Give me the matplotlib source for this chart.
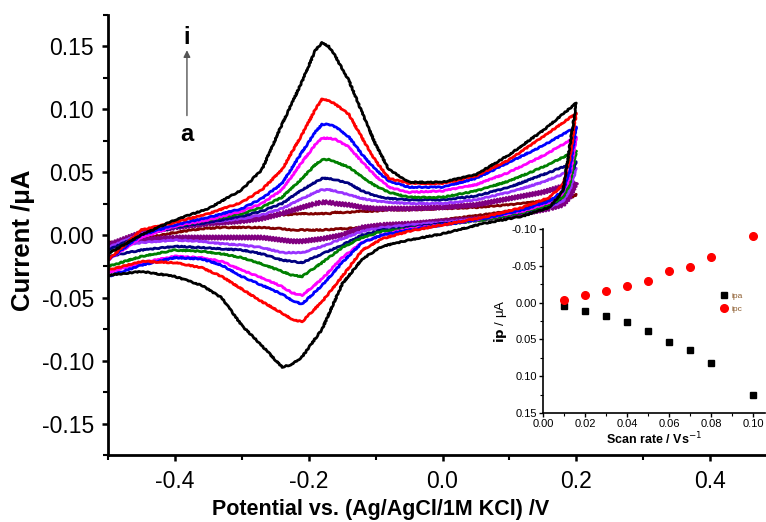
import numpy as np
import matplotlib
matplotlib.use('Agg')
import matplotlib.pyplot as plt
from matplotlib.ticker import MultipleLocator

plt.rcParams['font.family'] = ['Liberation Sans', 'DejaVu Sans']
plt.rcParams['axes.unicode_minus'] = False

## potentials (V) for the forward and the reverse sweep
e_fwd = [-0.5, -0.45, -0.4, -0.35, -0.3, -0.27, -0.24, -0.21, -0.19, -0.18, -0.17, -0.16,
         -0.14, -0.12, -0.1, -0.08, -0.05, 0.0, 0.05, 0.1, 0.15, 0.2]
e_rev = [0.19, 0.18, 0.16, 0.12, 0.06, 0.0, -0.05, -0.09, -0.12, -0.15, -0.18,
         -0.21, -0.225, -0.24, -0.27, -0.3, -0.33, -0.36, -0.4, -0.45, -0.5]

## currents (uA), curves a..i
i_fwd_a = [-0.010, 0.000, 0.006, 0.011, 0.014, 0.015, 0.016, 0.017, 0.017, 0.017, 0.017, 0.018,
           0.018, 0.019, 0.019, 0.020, 0.020, 0.021, 0.022, 0.024, 0.027, 0.032]
i_rev_a = [0.029, 0.027, 0.025, 0.021, 0.016, 0.012, 0.009, 0.007, 0.006, 0.005, 0.004,
           0.004, 0.004, 0.005, 0.006, 0.006, 0.006, 0.005, 0.002, -0.003, -0.006]
i_fwd_b = [-0.008, 0.002, 0.006, 0.009, 0.011, 0.013, 0.017, 0.022, 0.025, 0.026, 0.026, 0.025,
           0.024, 0.022, 0.021, 0.021, 0.021, 0.022, 0.024, 0.029, 0.034, 0.042]
i_rev_b = [0.030, 0.024, 0.021, 0.017, 0.013, 0.011, 0.009, 0.008, 0.006, 0.000, -0.003,
           -0.005, -0.005, -0.004, -0.002, -0.002, -0.002, -0.002, -0.002, -0.004, -0.008]
i_fwd_c = [-0.010, 0.001, 0.006, 0.010, 0.013, 0.016, 0.021, 0.029, 0.034, 0.036, 0.036, 0.035,
           0.032, 0.029, 0.027, 0.026, 0.025, 0.025, 0.028, 0.034, 0.042, 0.053]
i_rev_c = [0.035, 0.027, 0.022, 0.018, 0.013, 0.010, 0.008, 0.006, 0.003, -0.003, -0.009,
           -0.014, -0.014, -0.014, -0.010, -0.008, -0.007, -0.005, -0.004, -0.006, -0.011]
i_fwd_d = [-0.012, 0.000, 0.006, 0.010, 0.015, 0.019, 0.025, 0.036, 0.042, 0.045, 0.045, 0.044,
           0.041, 0.035, 0.031, 0.029, 0.028, 0.028, 0.031, 0.038, 0.048, 0.058]
i_rev_d = [0.045, 0.030, 0.023, 0.018, 0.012, 0.009, 0.006, 0.004, 0.000, -0.008, -0.015,
           -0.022, -0.021, -0.020, -0.015, -0.012, -0.011, -0.010, -0.009, -0.012, -0.017]
i_fwd_e = [-0.015, 0.000, 0.007, 0.012, 0.017, 0.022, 0.030, 0.045, 0.056, 0.060, 0.060, 0.058,
           0.054, 0.046, 0.039, 0.034, 0.030, 0.030, 0.035, 0.043, 0.054, 0.067]
i_rev_e = [0.040, 0.030, 0.024, 0.018, 0.012, 0.008, 0.005, 0.003, -0.002, -0.010, -0.022,
           -0.033, -0.032, -0.029, -0.023, -0.018, -0.015, -0.013, -0.012, -0.017, -0.025]
i_fwd_f = [-0.020, -0.002, 0.007, 0.012, 0.019, 0.025, 0.036, 0.058, 0.072, 0.077, 0.077, 0.076,
           0.070, 0.058, 0.047, 0.038, 0.034, 0.035, 0.040, 0.050, 0.063, 0.078]
i_rev_f = [0.045, 0.033, 0.026, 0.019, 0.013, 0.008, 0.005, 0.000, -0.006, -0.018, -0.035,
           -0.048, -0.046, -0.041, -0.034, -0.028, -0.021, -0.018, -0.017, -0.022, -0.030]
i_fwd_g = [-0.020, 0.000, 0.008, 0.014, 0.021, 0.029, 0.041, 0.066, 0.082, 0.088, 0.088, 0.086,
           0.078, 0.064, 0.052, 0.043, 0.038, 0.038, 0.045, 0.058, 0.071, 0.086]
i_rev_g = [0.050, 0.035, 0.027, 0.020, 0.013, 0.008, 0.004, 0.000, -0.006, -0.022, -0.040,
           -0.055, -0.052, -0.047, -0.040, -0.033, -0.024, -0.019, -0.018, -0.024, -0.033]
i_fwd_h = [-0.020, 0.004, 0.010, 0.017, 0.026, 0.036, 0.052, 0.080, 0.100, 0.108, 0.107, 0.104,
           0.096, 0.077, 0.059, 0.045, 0.041, 0.041, 0.047, 0.060, 0.078, 0.097]
i_rev_h = [0.060, 0.040, 0.030, 0.022, 0.014, 0.008, 0.003, -0.003, -0.012, -0.033, -0.053,
           -0.069, -0.067, -0.062, -0.053, -0.043, -0.033, -0.026, -0.022, -0.021, -0.028]
i_fwd_i = [-0.015, 0.000, 0.012, 0.021, 0.036, 0.052, 0.088, 0.122, 0.147, 0.153, 0.150, 0.142,
           0.123, 0.097, 0.072, 0.052, 0.042, 0.042, 0.048, 0.064, 0.083, 0.105]
i_rev_i = [0.070, 0.035, 0.022, 0.015, 0.009, 0.001, -0.004, -0.009, -0.019, -0.039, -0.075,
           -0.097, -0.103, -0.105, -0.088, -0.072, -0.050, -0.040, -0.033, -0.029, -0.032]

curve_colors = ['#800000', '#800080', '#9933FF', '#000080', '#008000',
                '#FF00FF', '#0000FF', '#FF0000', '#000000']

## inset: peak currents vs scan rate
scan_rate = [0.01, 0.02, 0.03, 0.04, 0.05, 0.06, 0.07, 0.08, 0.10]
ipa = [0.004, 0.011, 0.018, 0.027, 0.038, 0.054, 0.064, 0.082, 0.126]
ipc = [-0.004, -0.010, -0.016, -0.022, -0.030, -0.043, -0.049, -0.062, -0.091]

fwd = [i_fwd_a, i_fwd_b, i_fwd_c, i_fwd_d, i_fwd_e, i_fwd_f, i_fwd_g, i_fwd_h, i_fwd_i]
rev = [i_rev_a, i_rev_b, i_rev_c, i_rev_d, i_rev_e, i_rev_f, i_rev_g, i_rev_h, i_rev_i]

fig = plt.figure(figsize=(7.66, 5.22), dpi=100)
ax = fig.add_axes([108/766, 1-455/522, 669/766, 440/522])

for k in range(len(fwd)):
    line, = ax.plot(e_fwd + e_rev, fwd[k] + rev[k], color=curve_colors[k], lw=2.0)
    if k == 1:
        line.set_sketch_params(scale=2.0, length=3, randomness=1)
    else:
        line.set_sketch_params(scale=0.5, length=6, randomness=4)

ax.set_xlim(-0.5, 0.5)
ax.set_ylim(-0.175, 0.175)
ax.xaxis.set_major_locator(MultipleLocator(0.2))
ax.xaxis.set_minor_locator(MultipleLocator(0.1))
ax.yaxis.set_major_locator(MultipleLocator(0.05))
ax.yaxis.set_minor_locator(MultipleLocator(0.025))
ax.xaxis.set_major_formatter(plt.FormatStrFormatter('%.1f'))
ax.yaxis.set_major_formatter(plt.FormatStrFormatter('%.2f'))
ax.spines['top'].set_visible(False)
ax.spines['right'].set_visible(False)
for s in ['left', 'bottom']:
    ax.spines[s].set_linewidth(2.0)
ax.tick_params(which='major', direction='out', length=4.5, width=1.8, labelsize=16.5)
ax.tick_params(which='minor', direction='out', length=3.5, width=1.5)
ax.tick_params(axis='y', which='major', pad=5.5)
ax.tick_params(axis='x', which='major', pad=6)

fig.text(381/766, 1-510/522, 'Potential vs. (Ag/AgCl/1M KCl) /V', fontsize=15.5,
         fontweight='bold', ha='center', va='center')
fig.text(23/766, 1-240/522, 'Current /\u03bcA', fontsize=18.5, fontweight='bold',
         rotation=90, ha='center', va='center')

## scan direction arrow a -> i
ax.annotate('', xy=(-0.382, 0.147), xytext=(-0.382, 0.095),
            arrowprops=dict(arrowstyle='-|>', color='#555555', lw=1.0,
                            mutation_scale=10, shrinkA=0, shrinkB=0))
ax.text(-0.382, 0.157, 'i', fontsize=17, fontweight='bold', ha='center', va='center')
ax.text(-0.382, 0.080, 'a', fontsize=17, fontweight='bold', ha='center', va='center')

## inset
axin = fig.add_axes([543/766, 1-413/522, 222/766, 184/522])
axin.patch.set_alpha(0)
axin.plot(scan_rate, ipa, 's', color='black', ms=5, label='ipa')
axin.plot(scan_rate, ipc, 'o', color='red', ms=5.5, label='ipc')
axin.set_xlim(0, 0.1057)
axin.set_ylim(0.15, -0.10)
axin.xaxis.set_major_locator(MultipleLocator(0.02))
axin.xaxis.set_minor_locator(MultipleLocator(0.01))
axin.yaxis.set_major_locator(MultipleLocator(0.05))
axin.yaxis.set_minor_locator(MultipleLocator(0.025))
axin.xaxis.set_major_formatter(plt.FormatStrFormatter('%.2f'))
axin.yaxis.set_major_formatter(plt.FormatStrFormatter('%.2f'))
axin.spines['top'].set_visible(False)
axin.spines['right'].set_visible(False)
for s in ['left', 'bottom']:
    axin.spines[s].set_linewidth(1.2)
axin.tick_params(which='major', direction='out', length=3, width=1.0, labelsize=8, pad=1.5)
axin.tick_params(which='minor', direction='out', length=2, width=0.8)
axin.set_xlabel('Scan rate / Vs$^{-1}$', fontsize=9, fontweight='bold', labelpad=1)
axin.set_ylabel('$\\mathbf{ip}$ / \u03bcA', fontsize=9.5, labelpad=2)
leg = axin.legend(loc='upper left', bbox_to_anchor=(0.78, 0.68), frameon=False,
                  fontsize=6, handlelength=0.8, handletextpad=0.5, labelspacing=0.6,
                  borderpad=0)
for t in leg.get_texts():
    t.set_color('#8B5A2B')

fig.savefig('out.png', dpi=100)
